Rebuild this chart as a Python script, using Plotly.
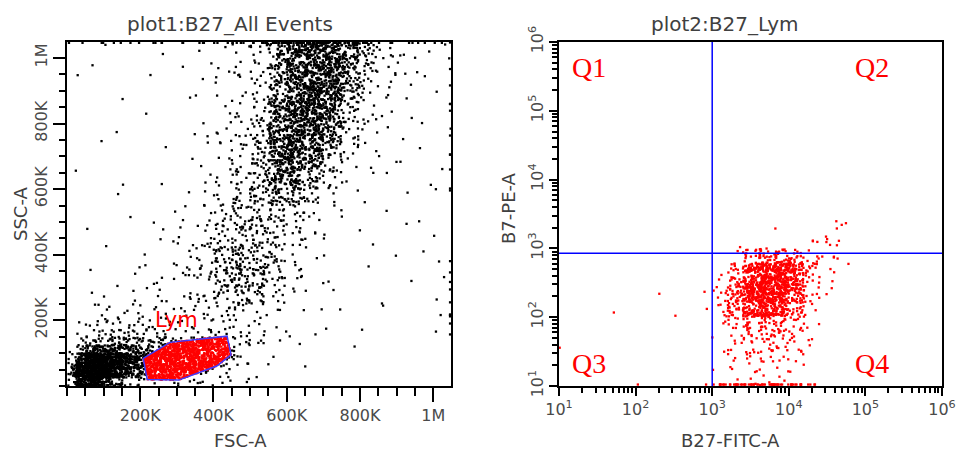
import numpy as np
import plotly.graph_objects as go

W, H = 958, 451          # browser window (page margin removed below)

# ---------------- Plot 1 : FSC-A vs SSC-A (all events) ----------------
SCALE_MAX = 1048576      # 20-bit full scale of FSC / SSC
CELL = 50000             # coarse grid cell used to read event density off the picture
FINE = 25000             # fine grid cell for the debris corner
EDGE_VALUE = 1046000     # saturated events pile up at the top / right edges

# events per 50K x 50K cell (outside the Lym gate); rows SSC 1000-1050K (top) -> 0-50K (bottom),
# columns FSC 0-50K -> 1000-1050K  (FSC<250K & SSC<200K is given by the fine grid below)
all_events_density = [
    [0, 0, 1, 0, 0, 1, 0, 1, 1, 3, 8, 30, 62, 85, 72, 45, 15, 4, 2, 2, 1],
    [0, 1, 0, 0, 0, 0, 1, 1, 2, 3, 6, 25, 56, 80, 72, 40, 12, 3, 2, 1, 1],
    [1, 0, 0, 0, 1, 0, 0, 1, 2, 3, 6, 27, 62, 80, 66, 28, 8, 3, 1, 1, 0],
    [0, 0, 0, 1, 0, 0, 1, 1, 2, 4, 8, 36, 68, 80, 55, 20, 5, 2, 1, 0, 1],
    [0, 0, 0, 0, 1, 0, 0, 1, 2, 4, 10, 42, 72, 72, 48, 13, 4, 2, 1, 1, 0],
    [0, 0, 1, 0, 0, 0, 1, 1, 3, 4, 12, 48, 72, 66, 36, 9, 3, 1, 1, 0, 1],
    [0, 1, 0, 0, 0, 1, 0, 1, 3, 6, 16, 54, 72, 54, 24, 5, 2, 1, 0, 1, 0],
    [1, 0, 0, 0, 0, 0, 1, 1, 3, 6, 16, 48, 60, 36, 12, 3, 1, 1, 1, 0, 1],
    [0, 0, 0, 1, 0, 1, 0, 2, 4, 8, 20, 40, 40, 20, 6, 2, 1, 1, 0, 1, 0],
    [0, 0, 1, 0, 0, 0, 1, 2, 5, 10, 18, 28, 22, 8, 3, 1, 1, 0, 1, 0, 1],
    [0, 0, 0, 1, 0, 1, 2, 3, 7, 12, 15, 15, 8, 3, 1, 1, 0, 1, 0, 1, 0],
    [0, 1, 0, 0, 1, 1, 2, 4, 9, 14, 14, 10, 5, 2, 1, 1, 0, 0, 1, 0, 1],
    [0, 0, 1, 0, 1, 2, 3, 6, 14, 20, 16, 10, 5, 2, 1, 0, 1, 0, 0, 1, 0],
    [0, 1, 0, 1, 1, 2, 3, 6, 18, 26, 22, 10, 4, 1, 1, 0, 1, 1, 0, 0, 1],
    [0, 0, 1, 1, 2, 2, 4, 6, 16, 26, 20, 10, 3, 1, 1, 0, 0, 0, 1, 0, 1],
    [0, 1, 1, 2, 2, 3, 4, 6, 12, 18, 12, 6, 2, 1, 1, 0, 0, 1, 0, 0, 1],
    [0, 3, 5, 5, 4, 4, 4, 6, 7, 7, 4, 2, 1, 1, 1, 0, 0, 1, 0, 0, 1],
    [0, 0, 0, 0, 0, 5, 5, 5, 6, 6, 4, 2, 1, 1, 1, 0, 1, 0, 0, 0, 1],
    [0, 0, 0, 0, 0, 20, 12, 12, 12, 10, 3, 1, 1, 0, 0, 1, 0, 0, 0, 0, 0],
    [0, 0, 0, 0, 0, 10, 10, 10, 15, 8, 1, 1, 0, 1, 0, 0, 0, 0, 0, 0, 0],
    [0, 0, 0, 0, 0, 8, 8, 8, 5, 2, 1, 0, 0, 0, 0, 0, 0, 0, 0, 0, 0],
]
# debris corner: events per 25K x 25K cell; rows SSC 175-200K (top) -> 0-25K, columns FSC 0 -> 250K
debris_density = [
    [0, 1, 2, 2, 2, 2, 2, 2, 2, 2],
    [0, 1, 2, 3, 3, 3, 3, 3, 3, 3],
    [0, 2, 4, 6, 7, 7, 7, 6, 5, 4],
    [1, 6, 18, 22, 24, 22, 18, 16, 12, 8],
    [4, 25, 70, 75, 70, 55, 40, 30, 20, 8],
    [8, 55, 85, 85, 75, 60, 40, 30, 20, 8],
    [10, 70, 85, 80, 70, 48, 28, 18, 12, 4],
    [5, 40, 55, 40, 20, 10, 5, 3, 2, 1],
]
# saturated events on the top edge (per FSC cell) and right edge (per SSC cell, bottom -> top)
top_edge_counts = [2, 2, 2, 2, 2, 2, 2, 3, 3, 5, 8, 12, 15, 15, 12, 8, 5, 3, 2, 2, 2]
right_edge_counts = [0, 0, 0, 2, 3, 2, 2, 1, 0, 0, 0, 1, 1, 1, 2, 1, 1, 2, 1, 1, 1]

# Lym gate polygon
gate_fsc = [208000, 281000, 437000, 448000, 409000, 305000, 219000]
gate_ssc = [84000, 133000, 152000, 95000, 61000, 18000, 20000]
# gated (Lym) event density per 50K cell; rows SSC 100-150K, 50-100K, 0-50K; columns FSC 200K..450K
lym_density = [
    [140, 150, 150, 150, 120],
    [150, 160, 160, 150, 120],
    [140, 150, 150, 130, 110],
]
LYM_FIRST_COL = 4

# ---------------- Plot 2 : B27-FITC-A vs B7-PE-A (Lym) ----------------
DEC_CELL = 0.2            # cell width in decades
FITC_FIRST = 3.0          # log10 of first FITC cell
PE_FIRST = 1.0            # log10 of first PE cell
# events per cell; rows log PE 3.2-3.4 (top) -> 1.0-1.2 (bottom); columns log FITC 3.0 -> 4.8
lym_fitc_pe_density = [
    [0, 0, 0, 0, 1, 0, 0, 0, 4],
    [0, 1, 0, 0, 0, 0, 3, 4, 2],
    [0, 1, 12, 20, 22, 14, 5, 3, 1],
    [1, 10, 45, 70, 75, 50, 12, 2, 1],
    [2, 20, 65, 90, 90, 45, 7, 2, 0],
    [6, 25, 70, 90, 70, 32, 6, 1, 0],
    [5, 18, 50, 65, 50, 16, 3, 0, 0],
    [2, 7, 14, 16, 14, 9, 2, 0, 0],
    [1, 5, 9, 11, 9, 6, 2, 0, 0],
    [1, 4, 6, 7, 6, 4, 1, 0, 0],
    [1, 3, 4, 5, 4, 3, 0, 0, 0],
    [0, 1, 2, 3, 3, 1, 0, 0, 0],
]
PE_FLOOR = 10.5           # events piled on the PE axis minimum
pe_floor_counts = [8, 10, 10, 10, 10, 10, 4, 0, 0]
outlier_fitc = [52, 204, 331, 794, 851, 10.2, 107, 832]
outlier_pe = [117, 219, 105, 234, 132, 36, 10.5, 10.5]

Q_FITC = 1000             # quadrant thresholds
Q_PE = 850


# ---------------- helpers ----------------
def spread(n, key):
    """deterministic in-cell spread (hash) for n events of one cell"""
    k = np.arange(n, dtype=float) + key * 131.0
    u = np.abs(np.sin(k * 12.9898 + key * 4.1414 + 1.7) * 43758.5453) % 1.0
    v = np.abs(np.sin(k * 78.233 + key * 2.7183 + 0.3) * 24634.6345) % 1.0
    return u, v


def inside(px, py, vx, vy):
    vx, vy = np.asarray(vx, float), np.asarray(vy, float)
    res = np.zeros(len(px), bool)
    j = len(vx) - 1
    for i in range(len(vx)):
        cond = ((vy[i] > py) != (vy[j] > py)) & (
            px < (vx[j] - vx[i]) * (py - vy[i]) / (vy[j] - vy[i] + 1e-12) + vx[i])
        res ^= cond
        j = i
    return res


def grid_events(grid, cell, key0, col0=0):
    xs, ys = [], []
    nrows = len(grid)
    for r, row in enumerate(grid):
        jj = nrows - 1 - r
        for c, n in enumerate(row):
            if n == 0:
                continue
            ii = col0 + c
            u, v = spread(n, key0 + jj * 47 + ii)
            xs.append((ii + u) * cell)
            ys.append((jj + v) * cell)
    return np.concatenate(xs), np.concatenate(ys)


# plot 1 black events
bx1, by1 = grid_events(all_events_density, CELL, 1)
bx2, by2 = grid_events(debris_density, FINE, 1500)
bx = np.concatenate([bx1, bx2]); by = np.concatenate([by1, by2])
keep = ~inside(bx, by, gate_fsc, gate_ssc)
bx, by = list(bx[keep]), list(by[keep])
for ii, n in enumerate(top_edge_counts):
    u, _ = spread(n, 3000 + ii)
    bx += list((ii + u) * CELL); by += [EDGE_VALUE] * n
for jj, n in enumerate(right_edge_counts):
    _, v = spread(n, 3500 + jj)
    bx += [EDGE_VALUE] * n; by += list((jj + v) * CELL)
bx, by = np.array(bx), np.array(by)
m = (bx < SCALE_MAX) & (by < SCALE_MAX)
bx, by = bx[m], by[m]

# plot 1 red (gated) events
rx, ry = grid_events(lym_density, CELL, 5000, LYM_FIRST_COL)
keep = inside(rx, ry, gate_fsc, gate_ssc)
rx, ry = rx[keep], ry[keep]

# plot 2 events (grid in decades)
gx, gy = grid_events(lym_fitc_pe_density, DEC_CELL, 7000)
qx = list(10 ** (FITC_FIRST + gx)); qy = list(10 ** (PE_FIRST + gy))
for ii, n in enumerate(pe_floor_counts):
    if n == 0:
        continue
    u, _ = spread(n, 9000 + ii)
    qx += list(10 ** (FITC_FIRST + (ii + u) * DEC_CELL)); qy += [PE_FLOOR] * n
qx += outlier_fitc; qy += outlier_pe

# ---------------- figure ----------------
mk = dict(symbol="square", size=2.3, line=dict(width=0))
fig = go.Figure()
fig.add_trace(go.Scatter(x=bx, y=by, mode="markers", marker=dict(color="black", **mk),
                         xaxis="x", yaxis="y", hoverinfo="skip"))
fig.add_trace(go.Scatter(x=rx, y=ry, mode="markers", marker=dict(color="#ff0000", **mk),
                         xaxis="x", yaxis="y", hoverinfo="skip"))
fig.add_trace(go.Scatter(x=gate_fsc + gate_fsc[:1], y=gate_ssc + gate_ssc[:1], mode="lines",
                         line=dict(color="rgb(60,60,255)", width=1.5), xaxis="x", yaxis="y",
                         hoverinfo="skip"))
fig.add_trace(go.Scatter(x=qx, y=qy, mode="markers", marker=dict(color="#ff0000", **mk),
                         xaxis="x2", yaxis="y2", hoverinfo="skip", cliponaxis=False))
fig.add_trace(go.Scatter(x=[Q_FITC, Q_FITC], y=[10, 1e6], mode="lines",
                         line=dict(color="#0000ff", width=1.5), xaxis="x2", yaxis="y2",
                         hoverinfo="skip"))
fig.add_trace(go.Scatter(x=[10, 1e6], y=[Q_PE, Q_PE], mode="lines",
                         line=dict(color="#0000ff", width=1.5), xaxis="x2", yaxis="y2",
                         hoverinfo="skip"))

FONT = "DejaVu Sans"
TICKC = "#4a4a4a"
lin_vals = [200000, 400000, 600000, 800000, 1000000]
lin_text = ["200K", "400K", "600K", "800K", "1M"]
log_vals = [10, 100, 1000, 10000, 100000, 1000000]
log_text = ["10<sup>%d</sup>" % k for k in range(1, 7)]
log_minor = [mm * 10 ** k for k in range(1, 6) for mm in range(2, 10)]


def xd(px):
    return px / W


def yd(py):
    return 1 - py / H


ydom = [yd(386), yd(42)]
common = dict(showline=True, mirror=True, linecolor="black", linewidth=2, showgrid=False,
              zeroline=False, ticks="outside", tickcolor="black", tickwidth=1.5,
              automargin=False, tickfont=dict(family=FONT, size=16, color=TICKC))

fig.update_layout(
    width=W, height=H, margin=dict(l=0, r=0, t=0, b=0, pad=0, autoexpand=False),
    paper_bgcolor="white", plot_bgcolor="white", showlegend=False,
    xaxis=dict(domain=[xd(67), xd(451)], range=[0, SCALE_MAX], anchor="y",
               tickvals=lin_vals, ticktext=lin_text, ticklen=14,
               minor=dict(dtick=CELL, tick0=0, ticklen=8, tickwidth=1.5, tickcolor="black",
                          ticks="outside", showgrid=False), **common),
    yaxis=dict(domain=ydom, range=[0, SCALE_MAX], anchor="x",
               tickvals=lin_vals, ticktext=lin_text, ticklen=12, tickangle=-90,
               minor=dict(dtick=CELL, tick0=0, ticklen=6, tickwidth=1.5, tickcolor="black",
                          ticks="outside", showgrid=False), **common),
    xaxis2=dict(domain=[xd(559), xd(942)], type="log", range=[1, 6], anchor="y2",
                tickvals=log_vals, ticktext=log_text, ticklen=8, ticklabeloverflow="allow",
                minor=dict(tickvals=log_minor, ticklen=5, tickwidth=1.5, tickcolor="black",
                           ticks="outside", showgrid=False), **common),
    yaxis2=dict(domain=ydom, type="log", range=[1, 6], anchor="x2",
                tickvals=log_vals, ticktext=log_text, ticklen=8, tickangle=-90,
                minor=dict(tickvals=log_minor, ticklen=5, tickwidth=1.5, tickcolor="black",
                           ticks="outside", showgrid=False), **common),
)


def ann(text, px, py, size, color="#404040", family=FONT, angle=0):
    fig.add_annotation(text=text, x=xd(px), y=yd(py), xref="paper", yref="paper",
                       showarrow=False, xanchor="center", yanchor="middle", textangle=angle,
                       font=dict(family=family, size=size, color=color))


ann("plot1:B27_All Events", 230, 24, 20)
ann("plot2:B27_Lym", 725, 24, 20)
ann("FSC-A", 240, 440, 18)
ann("B27-FITC-A", 730, 440, 18)
ann("SSC-A", 20, 214, 18, angle=-90)
ann("B7-PE-A", 508, 208, 18, angle=-90)
ann("Lym", 176, 320, 21, color="#ff0000")
for q, qxp, qyp in [("Q1", 589, 68), ("Q2", 872, 68), ("Q3", 589, 363), ("Q4", 872, 363)]:
    ann(q, qxp, qyp, 28, color="#ff0000", family="Liberation Serif")

fig.write_html("out.html", config={"displayModeBar": False},
               post_script="document.body.style.margin='0px';"
                           "document.body.style.overflow='hidden';")
